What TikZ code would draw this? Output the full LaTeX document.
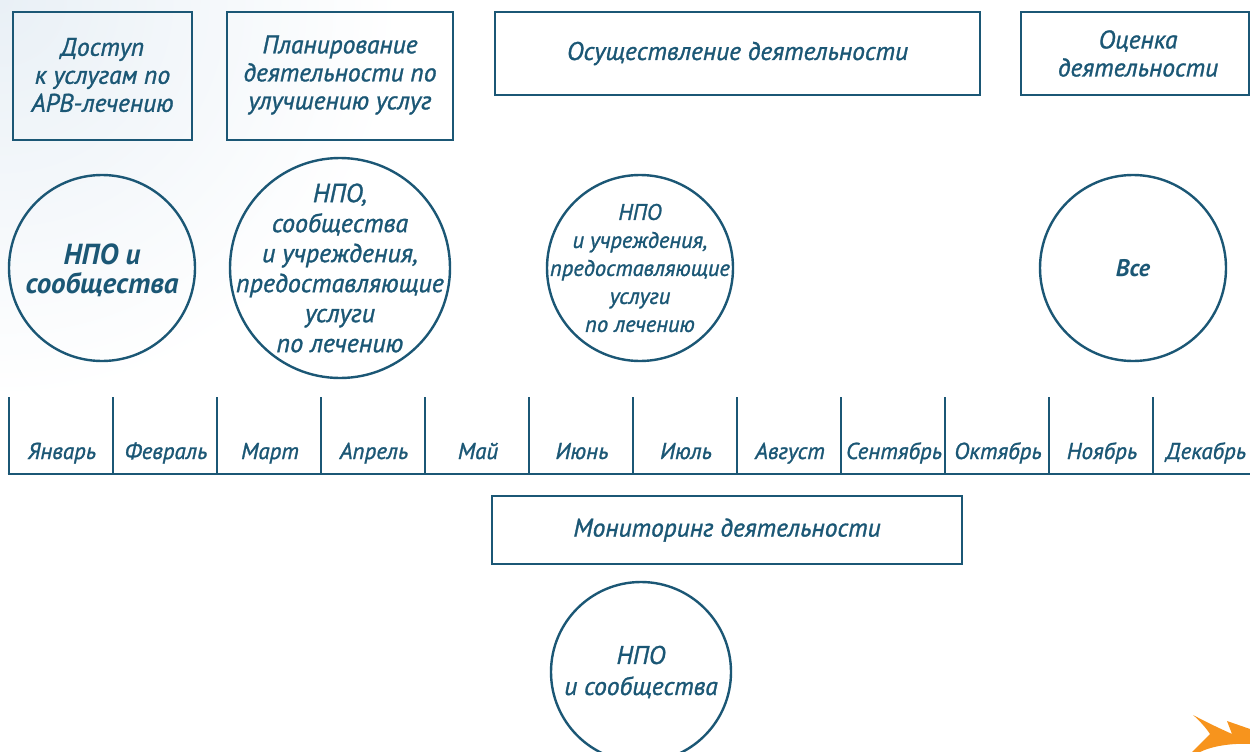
\documentclass[tikz,border=0pt]{standalone}
\usepackage{fontspec}
\setmainfont{PT Sans}[ItalicFeatures={FakeBold=1.2}]
\definecolor{ink}{HTML}{1B5775}
\definecolor{arrowor}{HTML}{F7941D}
\definecolor{bgblue}{HTML}{E9F0F6}
\tikzset{
  box/.style={draw=ink, line width=2.8pt, rectangle, inner sep=0pt},
  ring/.style={draw=ink, line width=2.4pt, circle, inner sep=0pt},
  lbl/.style={text=ink, font=\itshape\fontsize{25.5}{28}\selectfont, align=center, inner sep=0pt},
  month/.style={text=ink, font=\itshape\fontsize{23}{24}\selectfont, anchor=base, inner sep=0pt},
  tline/.style={draw=ink, line width=2.6pt}
}
\begin{document}
\begin{tikzpicture}[x=1pt,y=-1pt]
\useasboundingbox (0,0) rectangle (1250,752);
\fill[white] (0,0) rectangle (1250,752);
\shade[inner color=bgblue, outer color=white] (0,0) circle (400);
% top boxes
\node[box, minimum width=179pt, minimum height=128pt] (b1) at (102.5,76) {};
\node[lbl] (t1) at ([yshift=1pt]b1.center) {Доступ\\к услугам по\\АРВ-лечению};
\node[box, minimum width=226pt, minimum height=128pt] (b2) at (340,76) {};
\node[lbl] (t2) at ([yshift=1pt]b2.center) {Планирование\\деятельности по\\улучшению услуг};
\node[box, minimum width=485pt, minimum height=83pt] (b3) at (737.5,53.5) {};
\node[lbl] (t3) at (b3.center) {Осуществление деятельности};
\node[box, minimum width=228pt, minimum height=83pt] (b4) at (1135,53.5) {};
\node[lbl] (t4) at ([xshift=3pt]b4.center) {Оценка\\деятельности};
% circles
\node[ring, minimum size=186pt] (c1) at (102,268) {};
\node[lbl, font=\bfseries\itshape\fontsize{29}{29}\selectfont] (ct1) at ([yshift=-2pt]c1.center) {НПО и\\сообщества};
\node[ring, minimum size=220pt] (c2) at (340,268) {};
\node[lbl, font=\itshape\fontsize{26}{30}\selectfont] (ct2) at (c2.center) {НПО,\\сообщества\\и учреждения,\\предоставляющие\\услуги\\по лечению};
\node[ring, minimum size=186pt] (c3) at (640,268) {};
\node[lbl, font=\itshape\fontsize{22.5}{28}\selectfont] (ct3) at (c3.center) {НПО\\и учреждения,\\предоставляющие\\услуги\\по лечению};
\node[ring, minimum size=186pt] (c4) at (1133,268) {};
\node[lbl, font=\bfseries\itshape\fontsize{24}{24}\selectfont] (ct4) at (c4.center) {Все};
% timeline
\foreach \i in {0,...,11} {
  \coordinate (tt\i) at (9+104*\i,397);
  \coordinate (tb\i) at (9+104*\i,474);
  \draw[tline] (tt\i) -- (tb\i);
}
\coordinate (tend) at (1250,474);
\draw[tline] ([xshift=-1.3pt]tb0) -- (tend);
\foreach \m [count=\k from 0] in {Январь,Февраль,Март,Апрель,Май,Июнь,Июль,Август,Сентябрь,Октябрь,Ноябрь,Декабрь} {
  \node[month] (m\k) at (62+104*\k,459) {\m};
}
% monitoring
\node[box, minimum width=470pt, minimum height=68pt] (b5) at (727,530) {};
\node[lbl] (t5) at (b5.center) {Мониторинг деятельности};
\node[ring, minimum size=180pt] (c5) at (641,672) {};
\node[lbl, font=\itshape\fontsize{25.5}{31}\selectfont] (ct5) at (c5.center) {НПО\\и сообщества};
% orange arrow
\fill[arrowor] (1193,715) .. controls (1210,724) and (1221,729) .. (1232,734)
  -- (1227,721) .. controls (1238,725) .. (1250,729) -- (1250,744)
  .. controls (1232,743) and (1212,746) .. (1200,752) -- (1192,752)
  .. controls (1199,745) and (1205,739) .. (1210,734)
  .. controls (1206,728) and (1200,721) .. cycle;
\end{tikzpicture}
\end{document}
